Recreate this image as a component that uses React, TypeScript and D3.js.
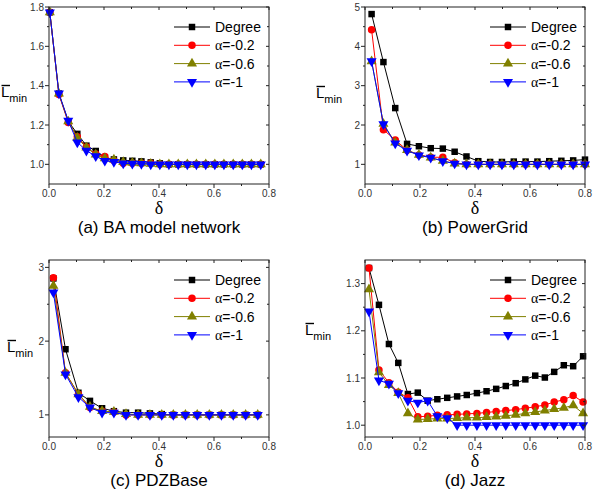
import React from 'react';
import * as d3 from 'd3';

// series names / colours shared by all four panels
const seriesNames = ['Degree', 'α=-0.2', 'α=-0.6', 'α=-1'];
const seriesColors = ['#000000', '#ff0000', '#808000', '#0000ff'];

const xTicks = [0, 0.2, 0.4, 0.6, 0.8];
const xMinor = [0.1, 0.3, 0.5, 0.7];

// (a) BA model network
const xA = [0.003, 0.036, 0.07, 0.103, 0.136, 0.17, 0.203, 0.236, 0.27, 0.303, 0.336, 0.37,
  0.403, 0.436, 0.47, 0.503, 0.536, 0.57, 0.603, 0.636, 0.67, 0.703, 0.736, 0.77];
const degA = [1.773, 1.36, 1.219, 1.155, 1.095, 1.068, 1.035, 1.025, 1.02, 1.018, 1.015, 1.01,
  1.005, 1.0, 1.0, 1.0, 1.0, 1.0, 1.0, 1.0, 1.0, 1.0, 1.0, 1.0];
const a02A = [1.773, 1.355, 1.213, 1.14, 1.088, 1.052, 1.04, 1.02, 1.005, 1.005, 1.005, 1.005,
  1.0, 1.0, 1.0, 1.0, 1.0, 1.0, 1.0, 1.0, 1.0, 1.0, 1.0, 1.0];
const a06A = [1.773, 1.36, 1.218, 1.135, 1.085, 1.05, 1.03, 1.024, 1.012, 1.008, 1.005, 1.003,
  1.0, 1.0, 1.0, 1.0, 1.0, 1.0, 1.0, 1.0, 1.0, 1.0, 1.0, 1.0];
const a1A = [1.773, 1.36, 1.222, 1.112, 1.07, 1.041, 1.018, 1.012, 1.005, 1.003, 1.002, 1.0,
  1.0, 1.0, 1.0, 1.0, 1.0, 1.0, 1.0, 1.0, 1.0, 1.0, 1.0, 1.0];

// (b) PowerGrid
const xB = [0.024, 0.067, 0.11, 0.153, 0.196, 0.239, 0.283, 0.326, 0.369, 0.412, 0.455, 0.498,
  0.541, 0.584, 0.627, 0.67, 0.714, 0.757, 0.8];
const degB = [4.82, 3.6, 2.43, 1.52, 1.46, 1.41, 1.4, 1.32, 1.2, 1.08, 1.06, 1.06, 1.07, 1.07,
  1.07, 1.08, 1.09, 1.1, 1.12];
const a02B = [4.42, 1.88, 1.62, 1.36, 1.24, 1.18, 1.18, 1.04, 1.0, 1.0, 1.0, 1.0, 1.0, 1.0,
  1.0, 1.0, 1.0, 1.0, 1.0];
const a06B = [3.62, 2.03, 1.55, 1.36, 1.24, 1.17, 1.09, 1.02, 1.0, 1.0, 1.0, 1.0, 1.0, 1.0,
  1.0, 1.0, 1.0, 1.0, 1.0];
const a1B = [3.62, 2.02, 1.53, 1.35, 1.23, 1.17, 1.08, 1.02, 1.0, 1.0, 1.0, 1.0, 1.0, 1.0,
  1.0, 1.0, 1.0, 1.0, 1.0];

// (c) PDZBase
const xC = [0.016, 0.06, 0.107, 0.149, 0.193, 0.236, 0.28, 0.324, 0.367, 0.41, 0.452, 0.496,
  0.539, 0.583, 0.627, 0.67, 0.715, 0.759];
const degC = [2.85, 1.89, 1.3, 1.19, 1.09, 1.05, 1.03, 1.03, 1.02, 1.01, 1.0, 1.0, 1.0, 1.0,
  1.0, 1.0, 1.0, 1.0];
const a02C = [2.86, 1.57, 1.28, 1.1, 1.05, 1.04, 1.0, 1.0, 1.0, 1.0, 1.0, 1.0, 1.0, 1.0, 1.0,
  1.0, 1.0, 1.0];
const a06C = [2.75, 1.57, 1.28, 1.11, 1.05, 1.04, 1.01, 1.0, 1.0, 1.0, 1.0, 1.0, 1.0, 1.0, 1.0,
  1.0, 1.0, 1.0];
const a1C = [2.66, 1.55, 1.24, 1.1, 1.03, 1.03, 1.0, 1.0, 1.0, 1.0, 1.0, 1.0, 1.0, 1.0, 1.0,
  1.0, 1.0, 1.0];

// (d) Jazz
const xD = [0.0145, 0.0507, 0.087, 0.121, 0.156, 0.192, 0.228, 0.263, 0.299, 0.335, 0.37, 0.407,
  0.442, 0.477, 0.512, 0.548, 0.583, 0.619, 0.654, 0.688, 0.723, 0.757, 0.793];
const degD = [1.333, 1.255, 1.172, 1.132, 1.066, 1.069, 1.052, 1.055, 1.058, 1.061, 1.064, 1.068,
  1.072, 1.077, 1.083, 1.089, 1.097, 1.105, 1.101, 1.113, 1.127, 1.125, 1.146];
const a02D = [1.333, 1.117, 1.09, 1.07, 1.058, 1.018, 1.019, 1.021, 1.022, 1.023, 1.024, 1.025,
  1.027, 1.029, 1.031, 1.033, 1.036, 1.039, 1.043, 1.049, 1.054, 1.063, 1.049];
const a06D = [1.288, 1.112, 1.085, 1.068, 1.025, 1.012, 1.013, 1.014, 1.014, 1.015, 1.016, 1.016,
  1.017, 1.018, 1.02, 1.022, 1.025, 1.028, 1.031, 1.034, 1.037, 1.042, 1.025];
const a1D = [1.241, 1.095, 1.088, 1.068, 1.052, 1.048, 1.052, 1.019, 1.015, 1.0, 1.0, 1.0,
  1.0, 1.0, 1.0, 1.0, 1.0, 1.0, 1.0, 1.0, 1.0, 1.0, 1.0];

const panels = [
  { title: '(a) BA model network', x: xA, ys: [degA, a02A, a06A, a1A], yDomain: [0.9, 1.8],
    yMajor: [1.0, 1.2, 1.4, 1.6, 1.8], yMinor: [1.1, 1.3, 1.5, 1.7], fmt: '.1f',
    left: 49, top: 7, lX: 1, lY: 97 },
  { title: '(b) PowerGrid', x: xB, ys: [degB, a02B, a06B, a1B], yDomain: [0.5, 5],
    yMajor: [1, 2, 3, 4, 5], yMinor: [1.5, 2.5, 3.5, 4.5], fmt: 'd',
    left: 365, top: 7, lX: 316, lY: 98 },
  { title: '(c) PDZBase', x: xC, ys: [degC, a02C, a06C, a1C], yDomain: [0.7, 3.1],
    yMajor: [1, 2, 3], yMinor: [1.5, 2.5], fmt: 'd',
    left: 49, top: 260, lX: 7, lY: 352 },
  { title: '(d) Jazz', x: xD, ys: [degD, a02D, a06D, a1D], yDomain: [0.975, 1.35],
    yMajor: [1.0, 1.1, 1.2, 1.3], yMinor: [1.05, 1.15, 1.25], fmt: '.1f',
    left: 365, top: 260, lX: 305, lY: 335 },
];

const W = 220;
const H = 177;
const sans = 'Arial, "Liberation Sans", sans-serif';
const serif = '"Times New Roman", "Liberation Serif", serif';

function Marker({ i, cx, cy }: { i: number; cx: number; cy: number }) {
  const c = seriesColors[i];
  if (i === 0) {
    return <path d={d3.symbol().type(d3.symbolSquare).size(42)()!} transform={`translate(${cx},${cy})`} fill={c} />;
  }
  if (i === 1) {
    return <path d={d3.symbol().type(d3.symbolCircle).size(44)()!} transform={`translate(${cx},${cy})`} fill={c} />;
  }
  const tri = d3.symbol().type(d3.symbolTriangle).size(44)()!;
  return <path d={tri} transform={`translate(${cx},${cy})${i === 3 ? ' rotate(180)' : ''}`} fill={c} />;
}

function Panel({ p }: { p: (typeof panels)[number] }) {
  const x = d3.scaleLinear().domain([0, 0.8]).range([p.left, p.left + W]);
  const y = d3.scaleLinear().domain(p.yDomain).range([p.top + H, p.top]);
  const fy = d3.format(p.fmt);
  const fx = d3.format('.1f');
  const bottom = p.top + H;
  const right = p.left + W;
  const axisColor = '#222';

  return (
    <g>
      {/* data */}
      {p.ys.map((vals, si) => {
        const pts = p.x.map((xv, k) => [x(xv), y(vals[k])] as [number, number]);
        const line = d3.line()(pts)!;
        return (
          <g key={si}>
            <path d={line} fill="none" stroke={seriesColors[si]} strokeWidth={1} />
            {pts.map(([cx, cy], k) => (
              <Marker key={k} i={si} cx={cx} cy={cy} />
            ))}
          </g>
        );
      })}

      {/* frame */}
      <rect x={p.left} y={p.top} width={W} height={H} fill="none" stroke={axisColor} strokeWidth={1} />

      {/* x ticks */}
      {xTicks.map((t) => (
        <g key={'xt' + t}>
          <line x1={x(t)} x2={x(t)} y1={bottom} y2={bottom + 4} stroke={axisColor} />
          <line x1={x(t)} x2={x(t)} y1={p.top} y2={p.top + 3} stroke={axisColor} />
          <text x={x(t)} y={bottom + 13} textAnchor="middle" fontSize={10} fontFamily={sans} fill="#333">
            {fx(t)}
          </text>
        </g>
      ))}
      {xMinor.map((t) => (
        <g key={'xm' + t}>
          <line x1={x(t)} x2={x(t)} y1={bottom} y2={bottom + 2} stroke={axisColor} />
          <line x1={x(t)} x2={x(t)} y1={p.top} y2={p.top + 2} stroke={axisColor} />
        </g>
      ))}

      {/* y ticks */}
      {p.yMajor.map((t) => (
        <g key={'yt' + t}>
          <line x1={p.left - 4} x2={p.left} y1={y(t)} y2={y(t)} stroke={axisColor} />
          <line x1={right - 3} x2={right} y1={y(t)} y2={y(t)} stroke={axisColor} />
          <text x={p.left - 5} y={y(t) + 3.5} textAnchor="end" fontSize={10} fontFamily={sans} fill="#333">
            {fy(t)}
          </text>
        </g>
      ))}
      {p.yMinor.map((t) => (
        <g key={'ym' + t}>
          <line x1={p.left - 2} x2={p.left} y1={y(t)} y2={y(t)} stroke={axisColor} />
          <line x1={right - 2} x2={right} y1={y(t)} y2={y(t)} stroke={axisColor} />
        </g>
      ))}

      {/* legend */}
      {seriesNames.map((name, si) => {
        const cy = p.top + 20 + 18.3 * si;
        return (
          <g key={'lg' + si}>
            <line x1={right - 95} x2={right - 59} y1={cy} y2={cy} stroke={seriesColors[si]} strokeWidth={1} />
            <Marker i={si} cx={right - 77} cy={cy} />
            <text x={right - 54} y={cy + 5} fontSize={14} fontFamily={sans} fill="#000">
              {si === 0 ? (
                name
              ) : (
                <>
                  <tspan fontFamily={serif}>α</tspan>
                  <tspan>{name.slice(1)}</tspan>
                </>
              )}
            </text>
          </g>
        );
      })}

      {/* y label: L with a bar over it, subscript min */}
      <line x1={p.lX + 0.5} x2={p.lX + 9} y1={p.lY - 11.5} y2={p.lY - 11.5} stroke="#000" strokeWidth={1.4} />
      <text x={p.lX} y={p.lY} fontSize={15} fontFamily={sans} fill="#000">
        <tspan>L</tspan>
        <tspan fontSize={11} dy={5}>min</tspan>
      </text>
      <text x={(p.left + right) / 2} y={bottom + 30} textAnchor="middle" fontSize={18} fontFamily={serif} fill="#000">
        δ
      </text>
      <text x={(p.left + right) / 2} y={bottom + 48.5} textAnchor="middle" fontSize={17} fontFamily={sans} fill="#000">
        {p.title}
      </text>
    </g>
  );
}

export default function App() {
  return (
    <svg
      width={597}
      height={490}
      viewBox="0 0 597 490"
      style={{ position: 'absolute', left: 0, top: 0, background: '#fff' }}
    >
      <rect width={597} height={490} fill="#fff" />
      {panels.map((p) => (
        <Panel key={p.title} p={p} />
      ))}
    </svg>
  );
}
